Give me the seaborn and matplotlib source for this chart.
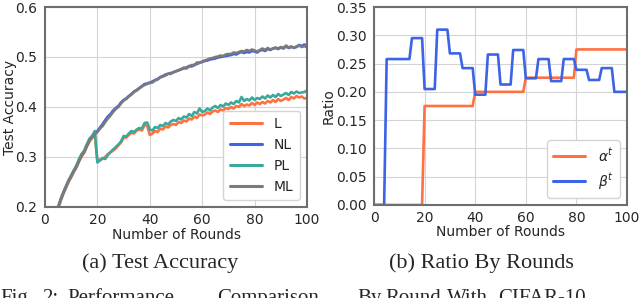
import numpy as np
import pandas as pd
import matplotlib
matplotlib.use("Agg")
import matplotlib.pyplot as plt
import seaborn as sns

# accuracy per round, rounds 5..100
rounds_acc = list(range(5, 101))

acc_L = [0.197, 0.212, 0.226, 0.238, 0.250, 0.259, 0.270, 0.279, 0.291, 0.301, 0.309, 0.321, 0.331, 0.338, 0.346,
         0.292, 0.295, 0.296, 0.300, 0.306, 0.309, 0.313, 0.317, 0.323, 0.329, 0.338, 0.339, 0.344, 0.348, 0.347,
         0.353, 0.355, 0.353, 0.364, 0.362, 0.344, 0.347, 0.352, 0.350, 0.357, 0.355, 0.361, 0.359, 0.364, 0.366,
         0.364, 0.370, 0.368, 0.373, 0.371, 0.377, 0.375, 0.381, 0.378, 0.385, 0.383, 0.385, 0.389, 0.386, 0.391,
         0.393, 0.390, 0.395, 0.393, 0.398, 0.396, 0.400, 0.397, 0.402, 0.400, 0.406, 0.402, 0.405, 0.403, 0.408,
         0.404, 0.409, 0.406, 0.410, 0.407, 0.412, 0.409, 0.414, 0.410, 0.416, 0.412, 0.415, 0.418, 0.414, 0.420,
         0.417, 0.422, 0.419, 0.421, 0.417, 0.418]

acc_NL = [0.199, 0.216, 0.229, 0.241, 0.253, 0.263, 0.273, 0.282, 0.294, 0.305, 0.312, 0.324, 0.335, 0.342, 0.348,
          0.352, 0.359, 0.366, 0.374, 0.381, 0.386, 0.393, 0.398, 0.402, 0.409, 0.414, 0.417, 0.422, 0.426, 0.431,
          0.434, 0.438, 0.442, 0.446, 0.447, 0.449, 0.451, 0.454, 0.456, 0.460, 0.462, 0.465, 0.466, 0.468, 0.469,
          0.472, 0.473, 0.476, 0.477, 0.479, 0.482, 0.481, 0.485, 0.486, 0.489, 0.490, 0.492, 0.493, 0.495, 0.496,
          0.497, 0.499, 0.500, 0.501, 0.502, 0.503, 0.504, 0.506, 0.505, 0.508, 0.510, 0.508, 0.510, 0.509, 0.512,
          0.511, 0.509, 0.513, 0.514, 0.512, 0.516, 0.514, 0.517, 0.518, 0.516, 0.519, 0.517, 0.521, 0.518, 0.520,
          0.519, 0.520, 0.524, 0.522, 0.525, 0.521]

acc_PL = [0.200, 0.214, 0.229, 0.241, 0.253, 0.262, 0.273, 0.283, 0.296, 0.306, 0.313, 0.326, 0.337, 0.342, 0.352,
          0.289, 0.293, 0.298, 0.296, 0.304, 0.310, 0.315, 0.320, 0.325, 0.331, 0.342, 0.341, 0.347, 0.352, 0.350,
          0.355, 0.358, 0.357, 0.368, 0.369, 0.355, 0.353, 0.360, 0.358, 0.364, 0.362, 0.368, 0.365, 0.371, 0.374,
          0.372, 0.378, 0.375, 0.381, 0.379, 0.386, 0.382, 0.390, 0.387, 0.397, 0.390, 0.392, 0.397, 0.393, 0.399,
          0.402, 0.398, 0.404, 0.401, 0.407, 0.404, 0.409, 0.406, 0.412, 0.409, 0.420, 0.412, 0.416, 0.413, 0.419,
          0.414, 0.418, 0.416, 0.421, 0.417, 0.423, 0.419, 0.424, 0.420, 0.426, 0.422, 0.425, 0.428, 0.424, 0.430,
          0.427, 0.431, 0.428, 0.429, 0.430, 0.433]

acc_ML = [0.198, 0.215, 0.228, 0.240, 0.252, 0.262, 0.272, 0.280, 0.292, 0.303, 0.310, 0.322, 0.333, 0.340, 0.345,
          0.350, 0.357, 0.362, 0.370, 0.377, 0.383, 0.390, 0.396, 0.400, 0.407, 0.413, 0.416, 0.421, 0.425, 0.430,
          0.433, 0.437, 0.441, 0.444, 0.446, 0.448, 0.449, 0.453, 0.455, 0.459, 0.461, 0.463, 0.467, 0.466, 0.470,
          0.471, 0.474, 0.475, 0.479, 0.477, 0.481, 0.484, 0.483, 0.489, 0.488, 0.491, 0.493, 0.495, 0.497, 0.498,
          0.500, 0.501, 0.503, 0.502, 0.505, 0.506, 0.506, 0.509, 0.508, 0.510, 0.512, 0.511, 0.514, 0.512, 0.515,
          0.513, 0.511, 0.514, 0.517, 0.514, 0.518, 0.515, 0.517, 0.519, 0.517, 0.520, 0.518, 0.523, 0.519, 0.521,
          0.518, 0.521, 0.523, 0.520, 0.522, 0.519]

# ratio per round: alpha changes every 20 rounds, beta every 5 rounds
alpha_blocks = [0.0, 0.175, 0.200, 0.225, 0.275]
beta_blocks = [0.0, 0.258, 0.258, 0.295, 0.205, 0.310, 0.268, 0.242, 0.195, 0.266,
               0.213, 0.274, 0.224, 0.258, 0.219, 0.258, 0.239, 0.221, 0.242, 0.200]

rounds_ratio = list(range(0, 101))
alpha_t = list(np.repeat(alpha_blocks, 20)) + [alpha_blocks[-1]]
beta_t = list(np.repeat(beta_blocks, 5)) + [beta_blocks[-1]]

# figure caption words (justified line, cut off at the bottom edge)
caption_words = ["Fig.", "2:", "Performance", "Comparison", "By", "Round", "With", "CIFAR-10"]
caption_x = [0, 42, 67, 217, 357, 385, 447, 498]

colors = {"L": "#ff7043", "NL": "#3d63e6", "PL": "#3aa99b", "ML": "#7a7a7a",
          r"$\alpha^t$": "#ff7043", r"$\beta^t$": "#3d63e6"}

acc_df = pd.concat([
    pd.DataFrame({"round": rounds_acc, "acc": vals, "method": name})
    for name, vals in [("L", acc_L), ("NL", acc_NL), ("PL", acc_PL), ("ML", acc_ML)]
])
ratio_df = pd.concat([
    pd.DataFrame({"round": rounds_ratio, "ratio": vals, "param": name})
    for name, vals in [(r"$\alpha^t$", alpha_t), (r"$\beta^t$", beta_t)]
])

sns.set_style("whitegrid", {"grid.color": "#d4d4d4", "axes.edgecolor": "#6e6e6e"})
plt.rcParams["font.family"] = ["DejaVu Sans"]

fig = plt.figure(figsize=(6.4, 2.98), dpi=100)
ax1 = fig.add_axes([0.0703, 0.3054, 0.4094, 0.6711])
ax2 = fig.add_axes([0.5844, 0.3121, 0.3953, 0.6644])

leg_kw = dict(loc="lower right", fontsize=10, handlelength=2.3, borderpad=0.45,
              labelspacing=0.5, handletextpad=0.9, framealpha=1, edgecolor="#d4d4d4")

sns.lineplot(data=acc_df, x="round", y="acc", hue="method", palette=colors,
             linewidth=1.9, ax=ax1)
ax1.set_xlim(0, 100)
ax1.set_ylim(0.2, 0.6)
ax1.set_yticks([0.2, 0.3, 0.4, 0.5, 0.6])
ax1.set_xlabel("Number of Rounds", fontsize=10)
ax1.set_ylabel("Test Accuracy", fontsize=10)
ax1.xaxis.set_label_coords(0.5, -0.103)
ax1.yaxis.set_label_coords(-0.107, 0.5)
ax1.tick_params(axis="y", labelsize=10, pad=2)
ax1.tick_params(axis="x", labelsize=10, pad=0.5)
leg1 = ax1.legend(**leg_kw)
for ln in leg1.get_lines():
    ln.set_linewidth(2.2)

sns.lineplot(data=ratio_df, x="round", y="ratio", hue="param", palette=colors,
             linewidth=1.9, ax=ax2)
ax2.set_xlim(0, 100)
ax2.set_ylim(0, 0.35)
ax2.set_yticks(np.arange(0, 0.36, 0.05))
ax2.yaxis.set_major_formatter(matplotlib.ticker.FormatStrFormatter("%.2f"))
ax2.set_xlabel("Number of Rounds", fontsize=10)
ax2.set_ylabel("Ratio", fontsize=10)
ax2.xaxis.set_label_coords(0.5, -0.103)
ax2.yaxis.set_label_coords(-0.15, 0.5)
ax2.tick_params(axis="y", labelsize=10, pad=2)
ax2.tick_params(axis="x", labelsize=10, pad=0.5)
leg2 = ax2.legend(**leg_kw)
for ln in leg2.get_lines():
    ln.set_linewidth(2.2)

for ax in (ax1, ax2):
    for sp in ax.spines.values():
        sp.set_linewidth(1.5)

fig.text(0.25, 0.117, "(a) Test Accuracy", ha="center", va="center",
         fontsize=16, family="Liberation Serif")
fig.text(0.752, 0.117, "(b) Ratio By Rounds", ha="center", va="center",
         fontsize=16, family="Liberation Serif")
for word, xp in zip(caption_words, caption_x):
    fig.text(xp / 640, -0.017, word, ha="left", va="baseline",
             fontsize=15, family="Liberation Serif")

fig.savefig("out.png", dpi=100)
